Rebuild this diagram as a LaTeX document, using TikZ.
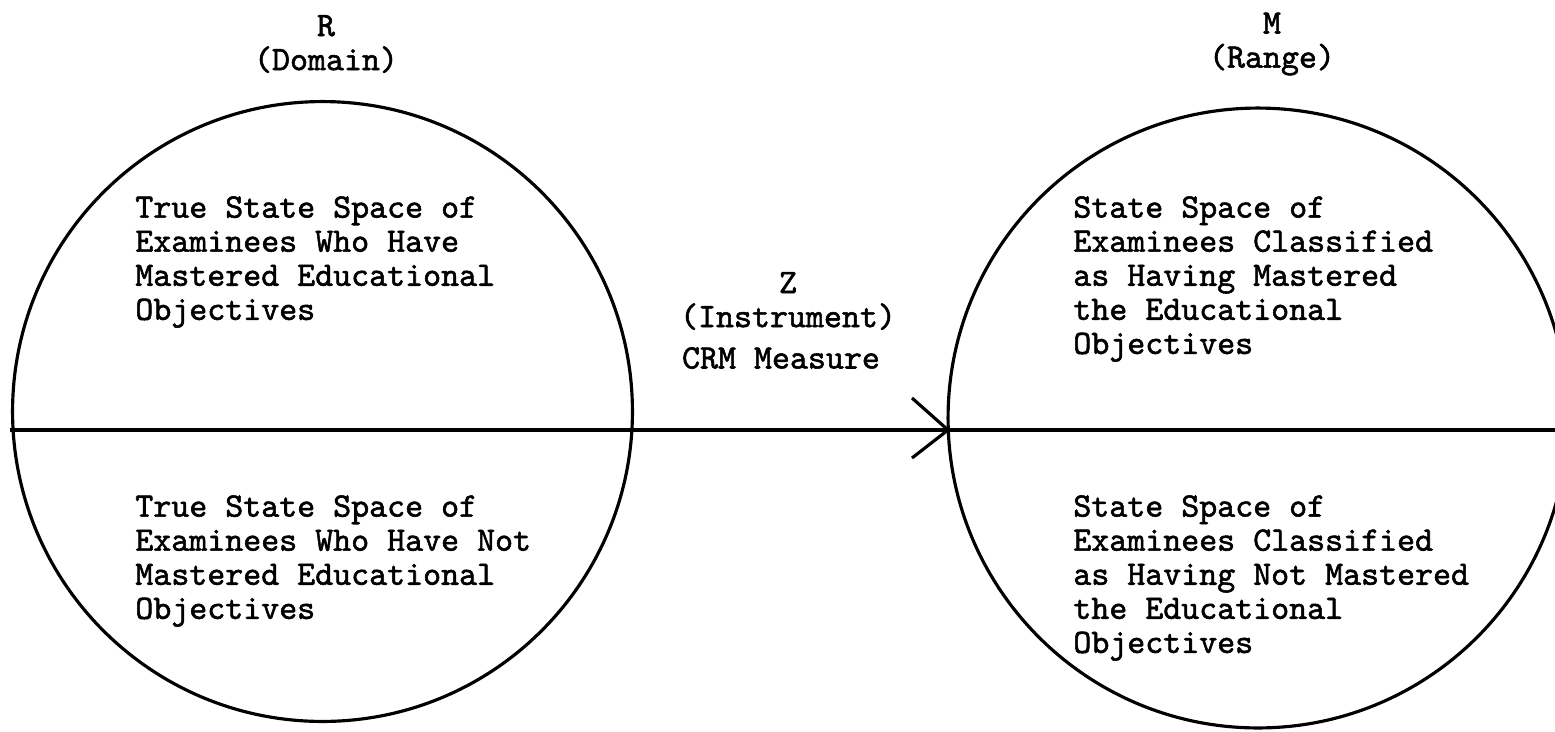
\documentclass[tikz,border=0pt]{standalone}
\usepackage{fontspec}
\newfontfamily\typew{lmmono10-regular.otf}[FakeBold=1.6]
\begin{document}
\begin{tikzpicture}[x=0.02cm,y=-0.02cm,
  setline/.style={line width=1.8pt},
  spacecircle/.style={circle, draw, setline, minimum size=12.4cm, inner sep=0pt},
  typed/.style={font=\typew\fontsize{19.5}{19.4}\selectfont, inner sep=0pt},
  lbl/.style={typed, align=left, anchor=west},
  head/.style={typed, align=center}]
\clip (0,0) rectangle (1555,731);
\useasboundingbox (0,0) rectangle (1555,731);

% the two state spaces
\node[spacecircle] (dom) at (322.5,411.5) {};
\node[spacecircle] (rng) at (1258,418) {};

% mapping line with its arrowhead at the range
\coordinate (lineL) at (10,430);
\coordinate (lineR) at (1555,430);
\coordinate (tip) at (948,430);
\coordinate (armU) at (912,398);
\coordinate (armD) at (912,458);
\draw[setline] (lineL) -- (lineR);
\draw[setline] (armU) -- (tip) -- (armD);

% headings
\node[head] (rlab) at (326,44) {R\\(Domain)};
\node[head] (mlab) at (1272,44) {M\\(Range)};
\node[head] (zlab) at (788,301) {Z\\(Instrument)};
\node[head] (crm) at (781,358) {CRM Measure};

% contents of the state spaces
\node[lbl] (domTop) at (135,262) {True State Space of\\Examinees Who Have\\Mastered Educational\\Objectives};
\node[lbl] (domBot) at (135,561) {True State Space of\\Examinees Who Have Not\\Mastered Educational\\Objectives};
\node[lbl] (rngTop) at (1073,279) {State Space of\\Examinees Classified\\as Having Mastered\\the Educational\\Objectives};
\node[lbl] (rngBot) at (1073,578) {State Space of\\Examinees Classified\\as Having Not Mastered\\the Educational\\Objectives};
\end{tikzpicture}
\end{document}
